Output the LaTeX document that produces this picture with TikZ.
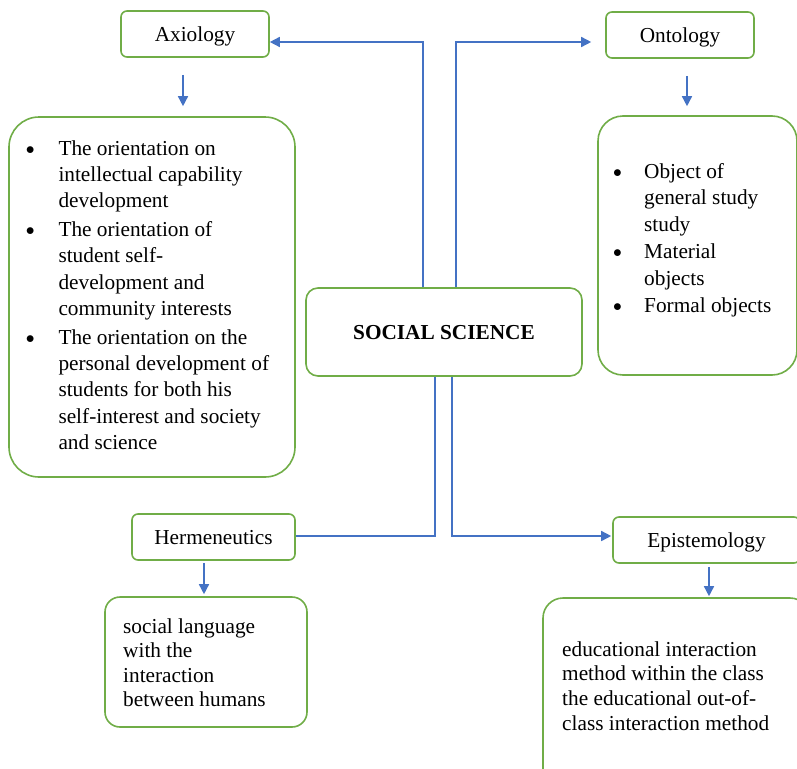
\documentclass[tikz,border=0pt]{standalone}
\usepackage{fontspec}
\usepackage{graphicx}
\setmainfont{Liberation Serif}
\usetikzlibrary{arrows.meta,calc}
\definecolor{lineblue}{HTML}{4472C4}
\definecolor{boxgreen}{HTML}{70AD47}
\newcommand\mybullet{\raisebox{0.8pt}{\scalebox{0.85}{$\bullet$}}}
\begin{document}
\begin{tikzpicture}[x=1pt,y=-1pt,
  basefont/.style={font=\fontsize{21.3}{26.3}\selectfont},
  basefont,
  box/.style={draw=boxgreen, line width=1.6pt, fill=white, inner sep=0pt,
              text height=17pt, text depth=1.6pt},
  smallbox/.style={box, rounded corners=6pt, minimum height=46pt},
  txt/.style={anchor=base west, inner sep=0pt},
  conn/.style={draw=lineblue, line width=1.5pt},
  arr/.style={conn, -{Triangle[length=10pt,width=10pt]}}]
\useasboundingbox (0,0) rectangle (797,768);

% boxes
\node[smallbox, minimum width=148pt] (axi) at (195,34) {Axiology};
\node[smallbox, minimum width=148pt] (onto) at (680,35) {Ontology};
\node[box, rounded corners=12pt, minimum width=276pt, minimum height=88pt,
      font=\fontsize{21.3}{26.3}\selectfont\bfseries] (soc) at (444,332) {SOCIAL SCIENCE};
\node[box, rounded corners=30pt, minimum width=286pt, minimum height=360pt] (axlist) at (152,297) {};
\node[box, rounded corners=25pt, minimum width=199pt, minimum height=259pt] (ontlist) at (697.5,245.5) {};
\node[smallbox, minimum width=163pt] (herm) at (213.5,537) {Hermeneutics};
\node[box, rounded corners=15pt, minimum width=202pt, minimum height=130pt] (hermlist) at (206,662) {};
\node[smallbox, minimum width=187pt] (epi) at (706.5,540) {Epistemology};
\node[box, rounded corners=20pt, minimum width=267pt, minimum height=202pt] (epilist) at (676.5,699) {};

% texts
\node[txt] (axtext) at (25.7,155) {\begin{tabular}[t]{@{}p{32.6pt}@{}l@{}}
\mybullet & The orientation on\\
  & intellectual capability\\
  & development\\[2.6pt]
\mybullet & The orientation of\\
  & student self-\\
  & development and\\
  & community interests\\[2.6pt]
\mybullet & The orientation on the\\
  & personal development of\\
  & students for both his\\
  & self-interest and society\\
  & and science
\end{tabular}};

\node[txt, font=\fontsize{21.3}{26.8}\selectfont] (onttext) at (613,178) {\begin{tabular}[t]{@{}p{31pt}@{}l@{}}
\mybullet & Object of\\
  & general study\\
  & study\\
\mybullet & Material\\
  & objects\\
\mybullet & Formal objects
\end{tabular}};

\node[txt, font=\fontsize{21.3}{24.5}\selectfont] (hermtext) at (123,633) {\begin{tabular}[t]{@{}l@{}}
social language\\
with the\\
interaction\\
between humans
\end{tabular}};

\node[txt, font=\fontsize{21.3}{24.7}\selectfont] (epitext) at (562,656) {\begin{tabular}[t]{@{}l@{}}
educational interaction\\
method within the class\\
the educational out-of-\\
class interaction method
\end{tabular}};

% connectors
\draw[arr] ($(soc.north west)+(118,0)$) |- ($(axi.east)+(0,8)$);
\draw[arr] ($(soc.north west)+(151,0)$) |- ($(onto.west)+(-14,7)$);
\draw[conn] ($(soc.south west)+(130,0)$) |- ($(herm.east)+(0,-1)$);
\draw[arr] ($(soc.south west)+(147,0)$) |- ($(epi.west)+(-1,-4)$);

\draw[arr] ($(axi.south)+(-12,17)$) -- ($(axlist.north)+(31,-10)$);
\draw[arr] ($(onto.south)+(7,17)$) -- ($(ontlist.north)+(-10.5,-9)$);
\draw[arr] ($(herm.south)+(-9.5,2)$) -- ($(hermlist.north)+(-2,-2)$);
\draw[arr] ($(epi.south)+(2.5,3)$) -- ($(epilist.north)+(32.5,-1)$);
\end{tikzpicture}
\end{document}
